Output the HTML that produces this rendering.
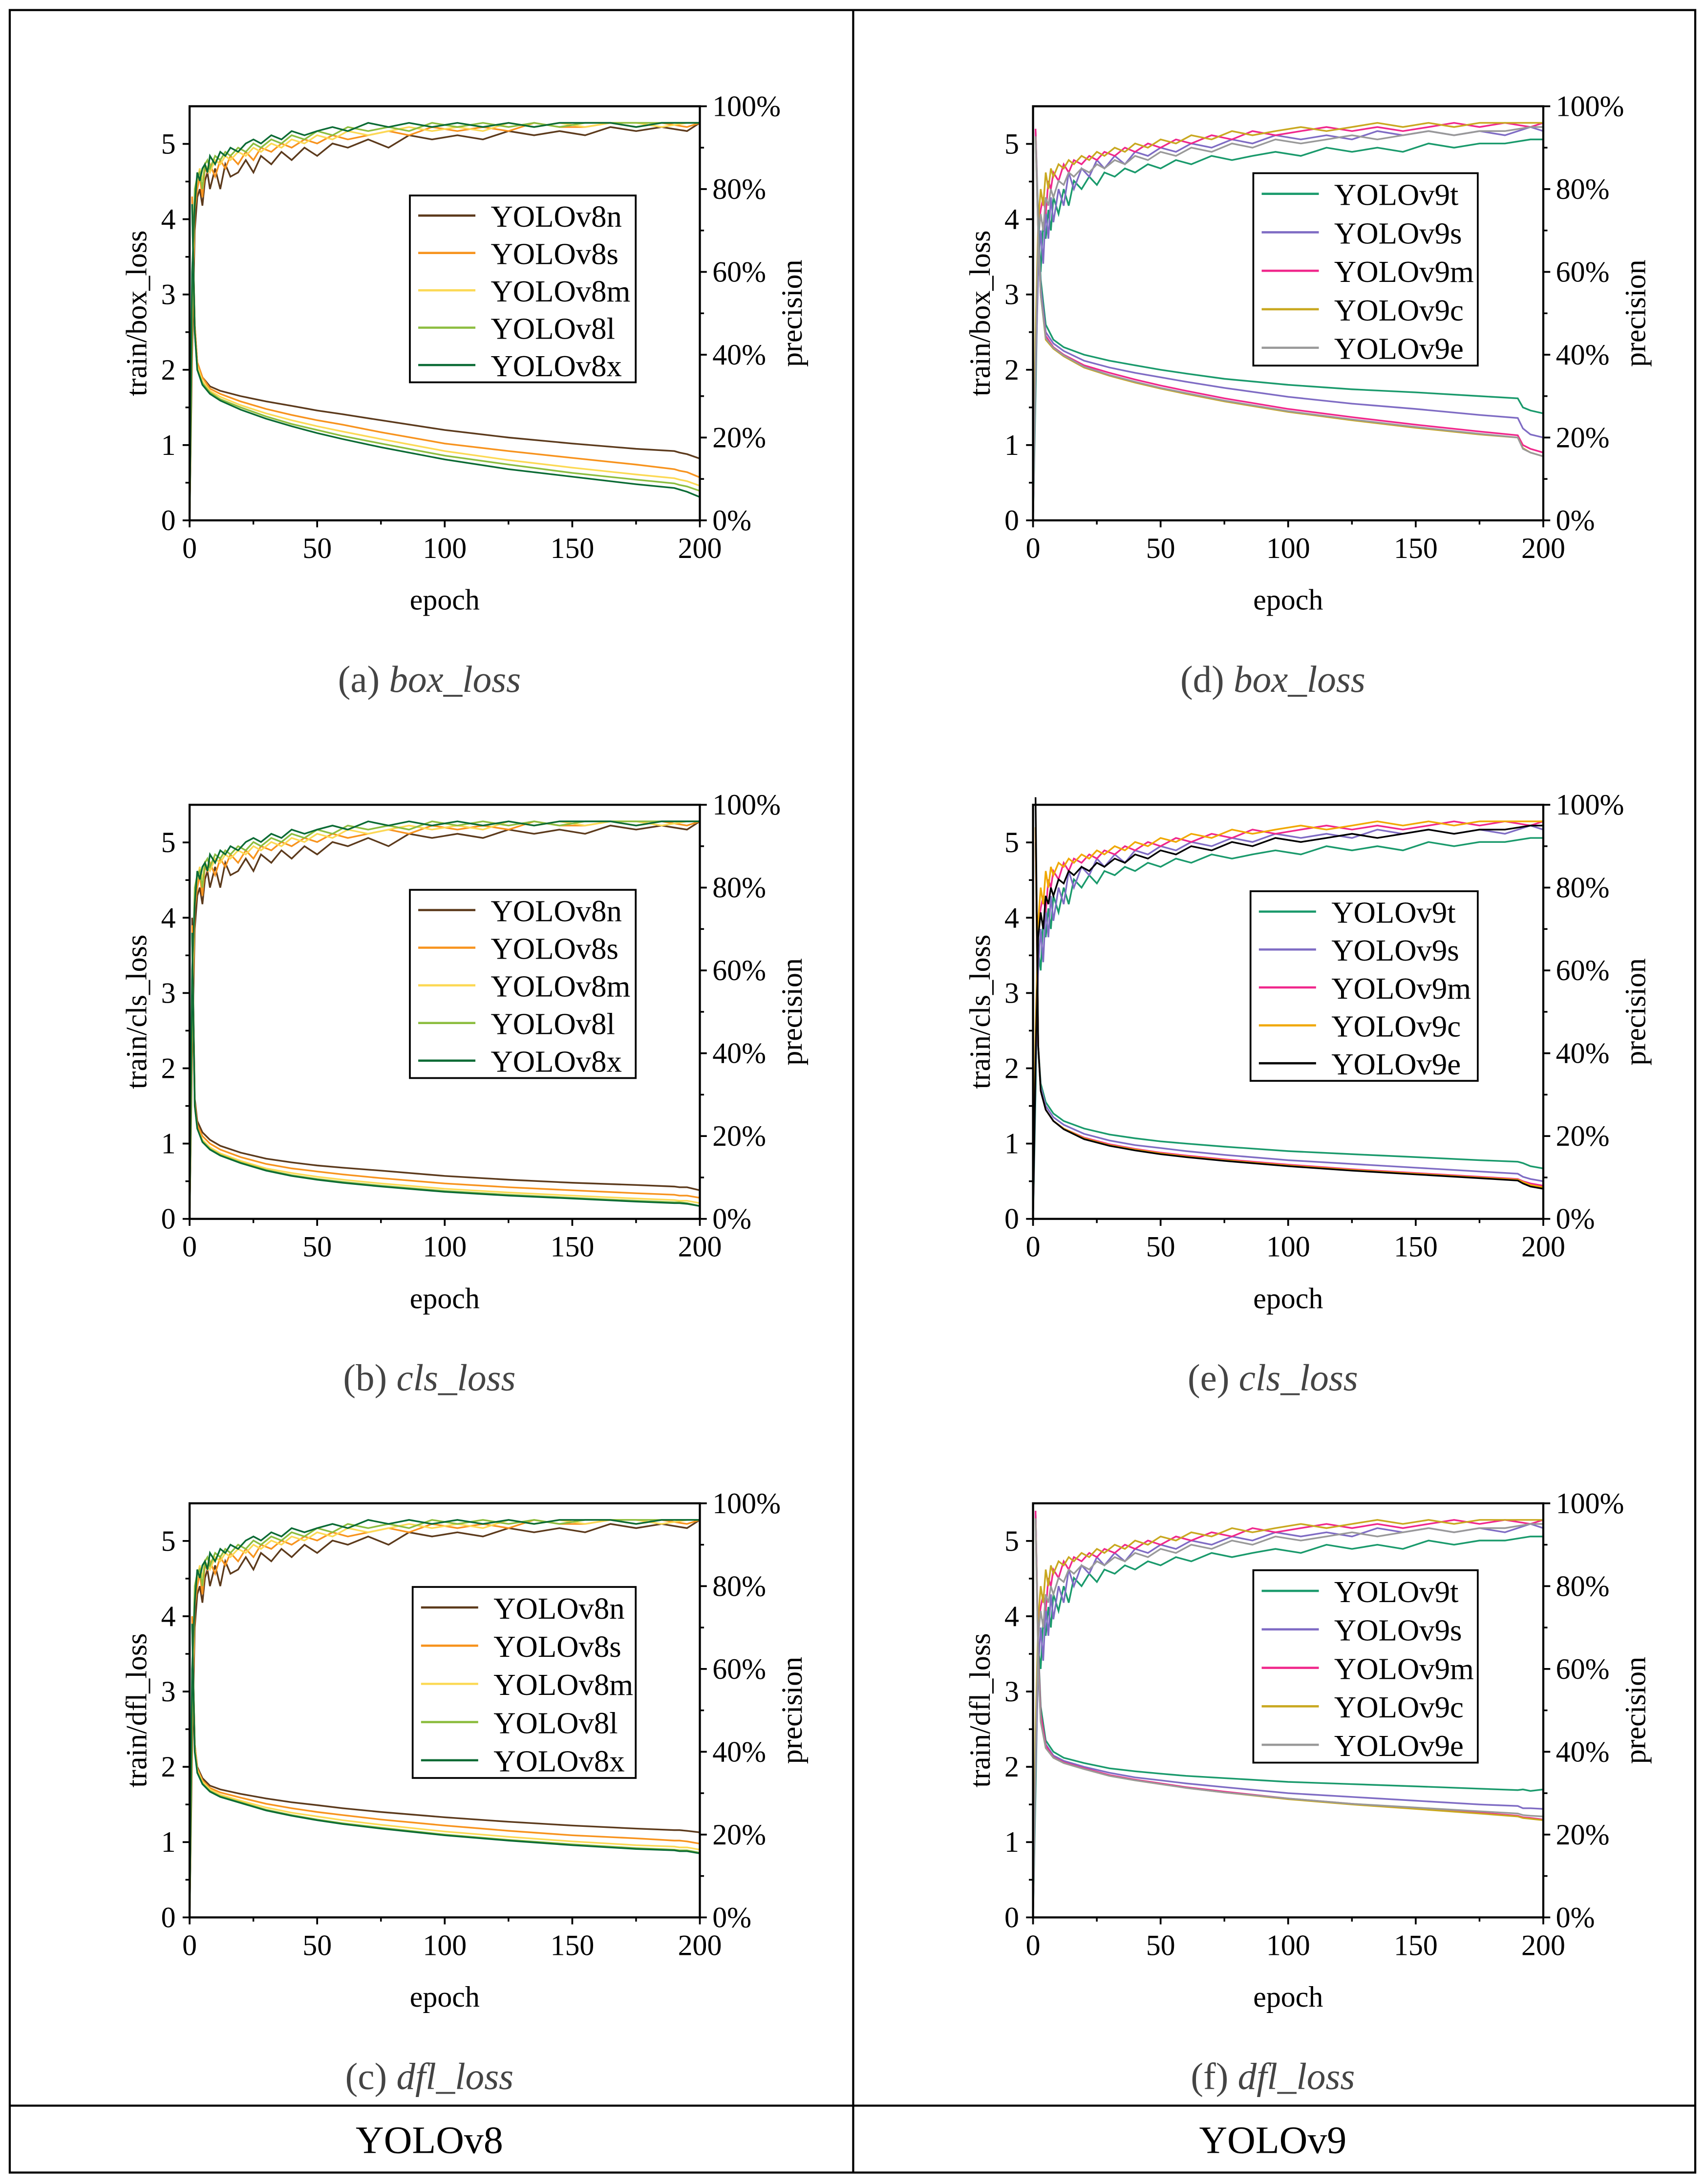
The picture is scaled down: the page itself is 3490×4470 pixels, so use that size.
<!DOCTYPE html>
<html><head><meta charset="utf-8"><style>
html,body{margin:0;padding:0;background:#fff}
svg{display:block}
text{font-family:"Liberation Serif",serif;fill:#000}
</style></head><body>
<svg id="fig" width="3490" height="4470" viewBox="0 0 1223 1566" xmlns="http://www.w3.org/2000/svg">
<rect x="7" y="7" width="1209" height="1551" fill="none" stroke="#000" stroke-width="1.5"/>
<line x1="612" y1="7" x2="612" y2="1558" stroke="#000" stroke-width="1.5"/>
<line x1="7" y1="1510" x2="1216" y2="1510" stroke="#000" stroke-width="1.5"/>
<text x="308" y="1544" font-size="28" text-anchor="middle">YOLOv8</text>
<text x="913" y="1544" font-size="28" text-anchor="middle">YOLOv9</text>
<g id="panels"></g>
</svg>
<script>
// loss epochs
const lossEpochs=[1,2,3,5,8,12,20,30,40,50,60,75,100,125,150,175,190,192,195,200];
// precision epochs
const precEpochs=[0,1,2,3,4,5,6,7,8,10,12,14,16,19,22,25,28,32,36,40,45,50,56,62,70,78,86,95,105,115,125,135,145,155,165,175,185,195,200];
const v8Names=["YOLOv8n","YOLOv8s","YOLOv8m","YOLOv8l","YOLOv8x"];
const v9Names=["YOLOv9t","YOLOv9s","YOLOv9m","YOLOv9c","YOLOv9e"];
const v8Colors=["#5c3a1c","#f7931e","#fcd955","#8cbd3f","#0b6b35"];
const v9Colors=["#1a9a6c","#7f6cc4","#f0288c","#c9a820","#999999"];
const v9ColorsE=["#1a9a6c","#7f6cc4","#f0288c","#f0a800","#000000"];
// precision (%) v8
const precV8n=[0,40,70,78,80,76,82,84,80,85,80,86,83,84,87,84,88,86,89,87,90,88,91,90,92,90,93,92,93,92,94,93,94,93,95,94,95,94,96];
const precV8s=[0,45,75,80,83,78,85,84,86,83,87,85,88,86,89,87,90,89,91,90,92,91,93,92,93,94,93,95,94,95,94,96,95,95,96,95,96,95,96];
const precV8m=[0,50,78,82,85,82,86,85,84,87,86,88,87,89,88,90,89,91,90,92,91,93,92,94,93,94,95,94,95,94,96,95,96,95,96,96,95,96,96];
const precV8l=[0,55,80,83,84,80,86,87,85,88,87,89,88,90,89,91,90,92,91,93,92,94,93,95,94,95,94,96,95,96,95,96,95,96,96,96,96,96,96];
const precV8x=[0,60,76,84,82,85,86,84,88,86,89,88,90,89,91,92,91,93,92,94,93,94,95,94,96,95,96,95,96,95,96,95,96,96,96,95,96,96,96];
// precision (%) v9
const precV9t=[0,30,65,60,72,68,75,70,78,74,80,76,82,80,83,81,84,83,85,84,86,85,87,86,88,87,88,89,88,90,89,90,89,91,90,91,91,92,92];
const precV9s=[0,35,60,70,62,75,68,78,72,80,76,84,80,85,83,87,85,88,86,89,88,90,89,91,90,92,91,93,92,93,92,94,93,94,93,94,93,95,94];
const precV9m=[0,40,70,75,78,74,82,80,84,82,86,84,87,86,88,87,89,88,90,89,91,90,92,91,93,92,94,93,94,95,94,95,94,95,96,95,96,95,96];
const precV9c=[0,45,72,80,76,84,80,85,83,86,85,87,86,88,87,89,88,90,89,91,90,92,91,93,92,94,93,94,95,94,95,96,95,96,95,96,96,96,96];
const precV9e=[0,38,68,74,70,78,76,80,78,82,81,84,83,85,84,86,85,87,86,88,87,89,88,90,89,91,90,92,91,92,93,92,93,94,93,94,94,95,95];
// (a) box loss v8
const boxV8n=[4.3,2.6,2.1,1.9,1.78,1.72,1.65,1.58,1.52,1.46,1.41,1.33,1.2,1.1,1.02,0.95,0.92,0.9,0.88,0.82];
const boxV8s=[4.3,2.6,2.1,1.9,1.75,1.68,1.58,1.48,1.4,1.33,1.27,1.17,1.02,0.92,0.83,0.74,0.68,0.66,0.64,0.57];
const boxV8m=[4.2,2.5,2.05,1.85,1.72,1.64,1.53,1.42,1.33,1.25,1.18,1.08,0.92,0.8,0.7,0.61,0.56,0.54,0.52,0.46];
const boxV8l=[4.2,2.5,2.0,1.82,1.7,1.61,1.5,1.38,1.28,1.2,1.12,1.02,0.86,0.74,0.63,0.54,0.49,0.47,0.45,0.39];
const boxV8x=[4.2,2.5,2.0,1.8,1.68,1.59,1.47,1.35,1.25,1.16,1.08,0.97,0.81,0.68,0.58,0.48,0.43,0.41,0.38,0.31];
// (b) cls loss v8
const clsV8n=[4.0,1.6,1.3,1.15,1.05,0.97,0.88,0.8,0.75,0.71,0.68,0.64,0.57,0.52,0.48,0.45,0.43,0.42,0.42,0.38];
const clsV8s=[3.9,1.55,1.25,1.1,1.0,0.92,0.82,0.73,0.67,0.63,0.59,0.54,0.47,0.42,0.38,0.34,0.32,0.31,0.31,0.28];
const clsV8m=[3.8,1.5,1.2,1.05,0.95,0.87,0.77,0.67,0.61,0.56,0.52,0.47,0.4,0.35,0.31,0.27,0.25,0.24,0.24,0.21];
const clsV8l=[3.8,1.5,1.2,1.03,0.93,0.85,0.75,0.65,0.58,0.53,0.49,0.44,0.37,0.32,0.28,0.24,0.22,0.22,0.21,0.17];
const clsV8x=[3.8,1.5,1.2,1.02,0.92,0.84,0.74,0.64,0.57,0.52,0.48,0.43,0.36,0.31,0.27,0.23,0.21,0.21,0.2,0.17];
// (c) dfl loss v8
const dflV8n=[4.0,2.3,2.0,1.85,1.75,1.7,1.64,1.58,1.53,1.49,1.45,1.4,1.33,1.27,1.22,1.18,1.16,1.16,1.15,1.13];
const dflV8s=[4.0,2.3,1.98,1.82,1.72,1.66,1.59,1.51,1.45,1.4,1.36,1.3,1.22,1.15,1.09,1.05,1.02,1.02,1.01,0.98];
const dflV8m=[3.9,2.25,1.95,1.8,1.7,1.63,1.55,1.46,1.39,1.34,1.29,1.23,1.14,1.07,1.01,0.96,0.94,0.93,0.93,0.9];
const dflV8l=[3.9,2.2,1.93,1.78,1.68,1.61,1.53,1.43,1.36,1.3,1.25,1.19,1.1,1.03,0.97,0.92,0.9,0.89,0.89,0.86];
const dflV8x=[3.9,2.2,1.92,1.77,1.67,1.6,1.52,1.42,1.35,1.29,1.24,1.18,1.09,1.02,0.96,0.91,0.89,0.88,0.88,0.85];
// (d) box loss v9
const boxV9t=[5.2,4.0,3.2,2.6,2.4,2.3,2.2,2.12,2.06,2.0,1.95,1.88,1.8,1.74,1.7,1.65,1.62,1.5,1.46,1.42];
const boxV9s=[5.2,3.9,3.1,2.5,2.35,2.25,2.12,2.03,1.96,1.9,1.84,1.76,1.64,1.55,1.48,1.4,1.36,1.22,1.14,1.1];
const boxV9m=[5.2,3.8,3.0,2.45,2.3,2.2,2.06,1.96,1.87,1.79,1.72,1.62,1.48,1.37,1.27,1.18,1.13,1.0,0.95,0.9];
const boxV9c=[5.1,3.8,3.0,2.4,2.28,2.18,2.03,1.92,1.83,1.75,1.68,1.58,1.44,1.33,1.23,1.14,1.1,0.96,0.9,0.85];
const boxV9e=[5.1,3.8,3.0,2.42,2.29,2.19,2.04,1.93,1.84,1.76,1.69,1.59,1.45,1.34,1.24,1.15,1.1,0.95,0.9,0.85];
// (e) cls loss v9
const clsV9t=[5.0,2.3,1.8,1.55,1.4,1.3,1.2,1.12,1.07,1.03,1.0,0.96,0.9,0.86,0.82,0.78,0.76,0.74,0.7,0.67];
const clsV9s=[5.0,2.3,1.75,1.5,1.35,1.25,1.13,1.04,0.98,0.94,0.9,0.85,0.78,0.73,0.68,0.63,0.6,0.56,0.53,0.5];
const clsV9m=[5.2,2.3,1.7,1.45,1.3,1.2,1.08,0.99,0.93,0.88,0.84,0.79,0.72,0.66,0.61,0.56,0.53,0.5,0.47,0.44];
const clsV9c=[5.2,2.3,1.7,1.45,1.3,1.2,1.07,0.98,0.92,0.87,0.83,0.78,0.71,0.65,0.6,0.55,0.52,0.49,0.45,0.42];
const clsV9e=[5.6,2.3,1.7,1.45,1.3,1.19,1.06,0.97,0.91,0.86,0.82,0.77,0.7,0.64,0.59,0.54,0.51,0.47,0.43,0.4];
// (f) dfl loss v9
const dflV9t=[5.4,3.6,2.8,2.35,2.2,2.12,2.05,1.98,1.94,1.91,1.88,1.85,1.8,1.77,1.74,1.71,1.69,1.7,1.68,1.7];
const dflV9s=[5.4,3.5,2.7,2.3,2.15,2.08,2.0,1.92,1.86,1.82,1.78,1.73,1.65,1.6,1.55,1.5,1.48,1.45,1.45,1.44];
const dflV9m=[5.4,3.5,2.7,2.28,2.13,2.06,1.98,1.89,1.83,1.78,1.73,1.67,1.58,1.51,1.45,1.39,1.35,1.33,1.32,1.3];
const dflV9c=[5.3,3.4,2.6,2.25,2.12,2.05,1.97,1.88,1.82,1.77,1.72,1.66,1.57,1.5,1.44,1.38,1.34,1.32,1.31,1.29];
const dflV9e=[5.3,3.4,2.6,2.25,2.12,2.05,1.97,1.88,1.82,1.77,1.72,1.66,1.58,1.51,1.46,1.41,1.38,1.36,1.35,1.34];
const xTicks=[0,50,100,150,200];
const yTicks=[0,1,2,3,4,5];
const pTicks=[0,20,40,60,80,100];

const NS="http://www.w3.org/2000/svg";
const root=document.getElementById("panels");
function mk(tag,attrs,parent){const e=document.createElementNS(NS,tag);for(const k in attrs)e.setAttribute(k,attrs[k]);(parent||root).appendChild(e);return e;}

const panels=[
 {id:"a",x0:136,y0:76,ytitle:"train/box_loss",cap:"box_loss",names:v8Names,colors:v8Colors,loss:[boxV8n,boxV8s,boxV8m,boxV8l,boxV8x],prec:[precV8n,precV8s,precV8m,precV8l,precV8x],leg:[294,140,162,134]},
 {id:"b",x0:136,y0:577,ytitle:"train/cls_loss",cap:"cls_loss",names:v8Names,colors:v8Colors,loss:[clsV8n,clsV8s,clsV8m,clsV8l,clsV8x],prec:[precV8n,precV8s,precV8m,precV8l,precV8x],leg:[294,638,162,135]},
 {id:"c",x0:136,y0:1078,ytitle:"train/dfl_loss",cap:"dfl_loss",names:v8Names,colors:v8Colors,loss:[dflV8n,dflV8s,dflV8m,dflV8l,dflV8x],prec:[precV8n,precV8s,precV8m,precV8l,precV8x],leg:[296,1138,160,137]},
 {id:"d",x0:741,y0:76,ytitle:"train/box_loss",cap:"box_loss",names:v9Names,colors:v9Colors,loss:[boxV9t,boxV9s,boxV9m,boxV9c,boxV9e],prec:[precV9t,precV9s,precV9m,precV9c,precV9e],leg:[899,124,161,138]},
 {id:"e",x0:741,y0:577,ytitle:"train/cls_loss",cap:"cls_loss",names:v9Names,colors:v9ColorsE,loss:[clsV9t,clsV9s,clsV9m,clsV9c,clsV9e],prec:[precV9t,precV9s,precV9m,precV9c,precV9e],leg:[897,639,163,136]},
 {id:"f",x0:741,y0:1078,ytitle:"train/dfl_loss",cap:"dfl_loss",names:v9Names,colors:v9Colors,loss:[dflV9t,dflV9s,dflV9m,dflV9c,dflV9e],prec:[precV9t,precV9s,precV9m,precV9c,precV9e],leg:[899,1126,161,138]}
];
const W=366,H=297;

panels.forEach(p=>{
 const g=mk("g",{});
 
 
 const xs=e=>p.x0+e/200*W;
 const ys=v=>p.y0+H-v/5.5*H;
 const yp=v=>p.y0+H-v/100*H;
 p.prec.forEach((arr,i)=>{
  const d=arr.map((v,k)=>(k?"L":"M")+xs(precEpochs[k]).toFixed(1)+","+yp(v).toFixed(1)).join("");
  const l=mk("path",{d:d,fill:"none",stroke:p.colors[i],"stroke-width":1.2},g);
  
  
 });
 p.loss.forEach((arr,i)=>{
  const d=arr.map((v,k)=>(k?"L":"M")+xs(lossEpochs[k]).toFixed(1)+","+ys(v).toFixed(1)).join("");
  const l=mk("path",{d:d,fill:"none",stroke:p.colors[i],"stroke-width":1.2},g);
  
  
 });
 const fr=mk("rect",{x:p.x0,y:p.y0,width:W,height:H,fill:"none",stroke:"#000","stroke-width":1.5},g);
 
 
 xTicks.forEach(t=>{
  mk("line",{x1:xs(t),y1:p.y0+H,x2:xs(t),y2:p.y0+H+5,stroke:"#000","stroke-width":1.3},g);
  const tx=mk("text",{x:xs(t),y:p.y0+H+27,"font-size":21,"text-anchor":"middle"},g);
  tx.textContent=t;
  
  
 });
 for(let t=25;t<200;t+=50) mk("line",{x1:xs(t),y1:p.y0+H,x2:xs(t),y2:p.y0+H+3,stroke:"#000","stroke-width":1.2},g);
 yTicks.forEach(t=>{
  mk("line",{x1:p.x0-5,y1:ys(t),x2:p.x0,y2:ys(t),stroke:"#000","stroke-width":1.3},g);
  const tx=mk("text",{x:p.x0-10,y:ys(t)+7,"font-size":21,"text-anchor":"end"},g);
  tx.textContent=t;
  
  
 });
 for(let t=0.5;t<5.5;t+=1) mk("line",{x1:p.x0-3,y1:ys(t),x2:p.x0,y2:ys(t),stroke:"#000","stroke-width":1.2},g);
 pTicks.forEach(t=>{
  mk("line",{x1:p.x0+W,y1:yp(t),x2:p.x0+W+5,y2:yp(t),stroke:"#000","stroke-width":1.3},g);
  const tx=mk("text",{x:p.x0+W+9,y:yp(t)+7,"font-size":21},g);
  tx.textContent=t+"%";
  
  
 });
 for(let t=10;t<100;t+=20) mk("line",{x1:p.x0+W,y1:yp(t),x2:p.x0+W+3,y2:yp(t),stroke:"#000","stroke-width":1.2},g);
 const xt=mk("text",{x:p.x0+W/2,y:p.y0+H+64,"font-size":21,"text-anchor":"middle"},g);
 xt.textContent="epoch";
 
 
 const cy=p.y0+H/2;
 const yt=mk("text",{x:0,y:0,"font-size":21,"text-anchor":"middle",transform:`translate(${p.x0-31},${cy}) rotate(-90)`},g);
 yt.textContent=p.ytitle;
 
 
 const rt=mk("text",{x:0,y:0,"font-size":21,"text-anchor":"middle",transform:`translate(${p.x0+W+73},${cy}) rotate(-90)`},g);
 rt.textContent="precision";
 
 
 const cap=mk("text",{x:p.x0<500?308:913,y:p.y0+H+123,"font-size":27,"text-anchor":"middle",fill:"#444"},g);
 
 
 const t1=mk("tspan",{fill:"#444"},cap);t1.textContent="("+p.id+") ";
 const t2=mk("tspan",{"font-style":"italic",fill:"#444"},cap);t2.textContent=p.cap;
 const [lx,ly,lw,lh]=p.leg;
 const lg=mk("g",{},g);
 
 
 mk("rect",{x:lx,y:ly,width:lw,height:lh,fill:"#fff",stroke:"#000","stroke-width":1.3},lg);
 const step=lh/5;
 p.names.forEach((n,i)=>{
  const yy=ly+step*(i+0.5)+1;
  const sw=mk("line",{x1:lx+6,y1:yy,x2:lx+47,y2:yy,stroke:p.colors[i],"stroke-width":1.6},lg);
  
  
  const tx=mk("text",{x:lx+58,y:yy+8,"font-size":22},lg);
  tx.textContent=n;
  
  
 });
});
</script>
</body></html>
